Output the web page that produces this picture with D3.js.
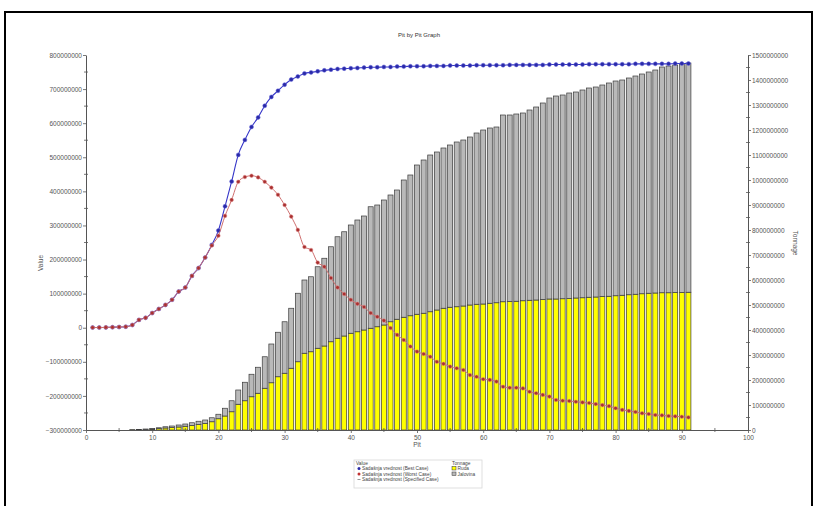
<!DOCTYPE html>
<html><head><meta charset="utf-8">
<script src="https://cdn.jsdelivr.net/npm/d3@7"></script>
<style>
html,body{margin:0;padding:0;background:#fff;}
svg{display:block;font-family:"Liberation Sans",Arial,sans-serif;}
</style></head>
<body>
<svg id="chart" width="815" height="506"></svg>
<script>
// ---- DATA ----
const pits = d3.range(1, 92); // 1..91 (category positions)
const bestCase = [
 0.5,0.5,1,1.5,2,3,8,23,29,43, 55,67,82,106,118,152,175,206,243,285,
 356,429,507,551,589,617,651,677,695,713, 728,737,746,749,752,755,757,759,760,761,
 762,763,764,764,765,765,766,766,767,767, 767,768,768,768,769,769,769,769,770,770,
 770,770,770,771,771,771,771,771,771,772, 772,772,772,772,772,773,773,773,773,773,
 773,773,774,774,774,774,774,774,775,775,775
].map(v => v * 1e6);
const worstCase = [
 0.5,0.5,1,1.5,2,3,8,23,29,43, 55,67,82,106,118,152,175,206,241,270,
 328,375,428,442,446,441,428,411,390,360, 326,287,237,228,191,179,146,118,99,82,
 70,61,43,32,21,-1,-21,-36,-55,-70, -77,-85,-100,-106,-114,-119,-124,-139,-144,-151,
 -153,-158,-173,-176,-176,-178,-188,-192,-197,-202, -212,-214,-215,-217,-219,-221,-224,-227,-230,-236,
 -241,-244,-247,-251,-253,-256,-257,-259,-260,-261,-263
].map(v => v * 1e6);
const ruda = [
 0,0,0,0,0,0,0.5,1,2,3, 6,8,10,12,15,18,22,26,33,45,
 56,73,103,117,133,147,167,189,213,227, 247,273,307,313,327,336,353,367,376,387,
 393,400,407,413,420,433,443,451,457,463, 467,473,480,487,491,493,496,500,503,504,
 507,509,513,514,515,517,519,520,522,524, 524,525,526,528,529,531,532,534,535,537,
 539,541,543,545,547,548,549,549,550,550,551
].map(v => v * 1e6);
const jalovina = [
 0,0,0,0,0,0,0.5,1,2,3, 3,5,6,8,9,11,13,14,16,18,
 31,44,57,74,90,104,126,155,178,206, 240,274,293,300,326,351,380,406,417,433,
 447,456,486,487,500,507,517,549,563,597, 613,627,632,641,649,659,664,672,685,696,
 701,703,747,746,749,751,761,772,786,804, 812,815,822,824,831,837,840,846,853,859,
 861,867,873,879,885,892,903,907,910,914,917
].map(v => v * 1e6);
const valueTicks = d3.range(-3e8, 8e8 + 1, 1e8);
const tonnageTicks = d3.range(0, 1.5e9 + 1, 1e8);
const pitTicks = d3.range(0, 101, 10);
const seriesNames = ["Sadašnja vrednost (Best Case)", "Sadašnja vrednost (Worst Case)", "Sadašnja vrednost (Specified Case)"];
const tonnageNames = ["Ruda", "Jalovina"];

// ---- CHART ----
const svg = d3.select("#chart");
const L = 86, R = 748, T = 55, B = 430;
const x = d3.scaleLinear().domain([0, 100]).range([L, R]);
const yL = d3.scaleLinear().domain([-3e8, 8e8]).range([B, T]);
const yR = d3.scaleLinear().domain([0, 1.5e9]).range([B, T]);
const fmt = d3.format("d");
const axisCol = "#555", textCol = "#555";

// frame
svg.append("rect").attr("x", 5).attr("y", 12).attr("width", 807).attr("height", 520)
  .attr("fill", "none").attr("stroke", "#000").attr("stroke-width", 2);

// title
svg.append("text").attr("x", 419).attr("y", 37).attr("text-anchor", "middle")
  .attr("font-size", 6).attr("fill", "#333").text("Pit by Pit Graph");

// bars
const stackData = pits.map((p, i) => ({pit: p, ruda: ruda[i], jalovina: jalovina[i]}));
const stack = d3.stack().keys(["ruda", "jalovina"])(stackData);
const barColors = {ruda: "#ffff00", jalovina: "#b9b9b9"};
const bw = 5;
stack.forEach(layer => {
  svg.append("g").selectAll("rect").data(layer.filter(d => d[1] - d[0] > 0)).join("rect")
    .attr("x", d => x(d.data.pit) - bw / 2)
    .attr("width", bw)
    .attr("y", d => yR(d[1]))
    .attr("height", d => Math.max(0.5, yR(d[0]) - yR(d[1])))
    .attr("fill", barColors[layer.key])
    .attr("stroke", "#3a3a3a").attr("stroke-width", 0.7);
});

// axes
function crossTicks(g, vals, pos, orient) {
  vals.forEach(v => {
    if (orient === "v") g.append("line").attr("x1", pos - 2).attr("x2", pos + 2).attr("y1", v).attr("y2", v);
    else g.append("line").attr("y1", pos - 2).attr("y2", pos + 2).attr("x1", v).attr("x2", v);
  });
  g.selectAll("line").attr("stroke", axisCol).attr("stroke-width", 0.8);
}
const axL = svg.append("g").attr("transform", `translate(${L},0)`)
  .call(d3.axisLeft(yL).tickValues(valueTicks).tickFormat(fmt).tickSize(3).tickSizeOuter(0).tickPadding(1));
const axR = svg.append("g").attr("transform", `translate(${R},0)`)
  .call(d3.axisRight(yR).tickValues(tonnageTicks).tickFormat(fmt).tickSize(3).tickSizeOuter(0).tickPadding(1));
const axB = svg.append("g").attr("transform", `translate(0,${B})`)
  .call(d3.axisBottom(x).tickValues(pitTicks).tickFormat(fmt).tickSize(3).tickSizeOuter(0).tickPadding(2));
[axL, axR, axB].forEach(a => {
  a.select(".domain").attr("stroke", axisCol).attr("stroke-width", 1);
  a.selectAll(".tick line").attr("stroke", axisCol).attr("stroke-width", 0.8);
  a.selectAll("text").attr("font-size", 6.5).attr("fill", textCol).attr("font-family", "Liberation Sans, Arial, sans-serif");
});
crossTicks(svg.append("g"), d3.range(-2.5e8, 8e8, 1e8).map(yL), L, "v");
crossTicks(svg.append("g"), d3.range(0.5e8, 1.5e9, 1e8).map(yR), R, "v");
crossTicks(svg.append("g"), d3.range(5, 100, 10).map(x), B, "h");

// axis titles
svg.append("text").attr("transform", `translate(43,263) rotate(-90)`).attr("text-anchor", "middle")
  .attr("font-size", 6.5).attr("fill", textCol).text("Value");
svg.append("text").attr("transform", `translate(793,243) rotate(90)`).attr("text-anchor", "middle")
  .attr("font-size", 6.5).attr("fill", textCol).text("Tonnage");
svg.append("text").attr("x", x(50)).attr("y", 447).attr("text-anchor", "middle")
  .attr("font-size", 6.5).attr("fill", textCol).text("Pit");

// lines
const lineL = d3.line().x((d, i) => x(pits[i])).y(d => yL(d)).curve(d3.curveMonotoneX);
svg.append("path").datum(bestCase).attr("d", lineL).attr("fill", "none").attr("stroke", "#3535c8").attr("stroke-width", 1.1);
svg.append("g").selectAll("circle").data(bestCase).join("circle")
  .attr("cx", (d, i) => x(pits[i])).attr("cy", d => yL(d)).attr("r", 2)
  .attr("fill", "#2a2aa8").attr("stroke", "#6666dd").attr("stroke-width", 0.5);
svg.append("path").datum(worstCase).attr("d", lineL).attr("fill", "none").attr("stroke", "#cf7070").attr("stroke-width", 1);
svg.append("g").selectAll("circle").data(worstCase).join("circle")
  .attr("cx", (d, i) => x(pits[i])).attr("cy", d => yL(d)).attr("r", 1.8)
  .attr("fill", "#a83030").attr("stroke", "#dd8080").attr("stroke-width", 0.5);

// legend
const lg = svg.append("g");
lg.append("rect").attr("x", 354).attr("y", 460).attr("width", 128).attr("height", 28)
  .attr("fill", "#fff").attr("stroke", "#d8d8d8").attr("stroke-width", 0.8);
const lfs = 4.8;
lg.append("text").attr("x", 356).attr("y", 465).attr("font-size", lfs).attr("fill", "#444").text("Value");
const rowsY = [470, 475.5, 481];
lg.append("circle").attr("cx", 359).attr("cy", rowsY[0] - 1.5).attr("r", 1.5).attr("fill", "#2a2aa8");
lg.append("circle").attr("cx", 359).attr("cy", rowsY[1] - 1.5).attr("r", 1.5).attr("fill", "#c03030");
lg.append("line").attr("x1", 357.5).attr("x2", 360.5).attr("y1", rowsY[2] - 1.5).attr("y2", rowsY[2] - 1.5).attr("stroke", "#777").attr("stroke-width", 0.8);
seriesNames.forEach((n, i) => lg.append("text").attr("x", 362).attr("y", rowsY[i]).attr("font-size", lfs).attr("fill", "#444").text(n));
lg.append("text").attr("x", 452).attr("y", 465).attr("font-size", lfs).attr("fill", "#444").text("Tonnage");
tonnageNames.forEach((n, i) => {
  lg.append("rect").attr("x", 452).attr("y", rowsY[i] - 3.5).attr("width", 4).attr("height", 3.5)
    .attr("fill", i === 0 ? "#ffff00" : "#b9b9b9").attr("stroke", "#333").attr("stroke-width", 0.5);
  lg.append("text").attr("x", 457.5).attr("y", rowsY[i]).attr("font-size", lfs).attr("fill", "#444").text(n);
});
</script>
</body></html>
